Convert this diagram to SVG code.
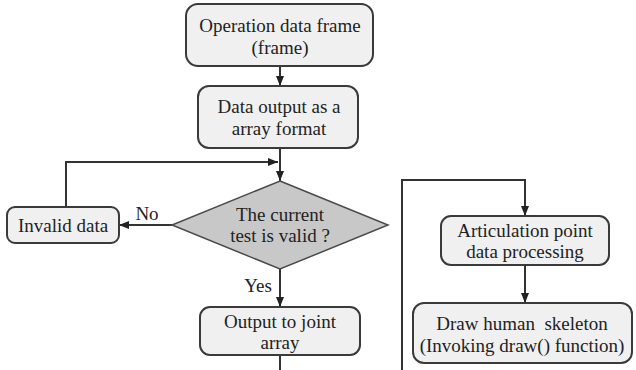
<svg xmlns="http://www.w3.org/2000/svg" width="636" height="370" viewBox="0 0 636 370">
  <style>
    .box { fill: #f0f0f0; stroke: #3a3a3a; stroke-width: 2; }
    .dia { fill: #c8c8c8; stroke: #4a4a4a; stroke-width: 1.5; }
    .lbl { font-size: 19px; fill: #222; text-anchor: middle; }
    .pre { white-space: pre; }
    .edge { fill: none; stroke: #333; stroke-width: 2; }
  </style>
  <defs>
    <marker id="arrow" viewBox="0 0 10 10" refX="10" refY="5" markerWidth="5" markerHeight="5" orient="auto" markerUnits="strokeWidth">
      <path d="M0,1 L10,5 L0,9 z" fill="#222"/>
    </marker>
  </defs>
  <rect width="636" height="370" fill="#ffffff"/>

  <g id="connectors">
    <path class="edge" d="M280,66 V86" marker-end="url(#arrow)"/>
    <path class="edge" d="M280,148 V181" marker-end="url(#arrow)"/>
    <path class="edge" d="M66,207 V162 H278" marker-end="url(#arrow)"/>
    <path class="edge" d="M172,225 H119" marker-end="url(#arrow)"/>
    <path class="edge" d="M280,269 V307" marker-end="url(#arrow)"/>
    <path class="edge" d="M280,355 V370"/>
    <path class="edge" d="M402,370 V180 H525 V216" marker-end="url(#arrow)"/>
    <path class="edge" d="M525,265 V303" marker-end="url(#arrow)"/>
  </g>

  <g font-family="Liberation Serif, DejaVu Serif, serif">
    <g id="frame">
      <rect class="box" x="186" y="4" width="187" height="62" rx="12"/>
      <text class="lbl" x="280" y="32">Operation data frame</text>
      <text class="lbl" x="280" y="54">(frame)</text>
    </g>

    <g id="array-output">
      <rect class="box" x="198" y="86" width="160" height="62" rx="11"/>
      <text class="lbl" x="279" y="113">Data output as a</text>
      <text class="lbl" x="279" y="135">array format</text>
    </g>

    <g id="valid-check">
      <polygon class="dia" points="280,181 388,225 280,269 172,225"/>
      <text class="lbl" x="280" y="221">The current</text>
      <text class="lbl" x="280" y="242">test is valid ?</text>
    </g>

    <g id="invalid">
      <rect class="box" x="7" y="207" width="112" height="36" rx="8"/>
      <text class="lbl" x="63" y="232">Invalid data</text>
    </g>

    <g id="edge-labels">
      <text class="lbl" x="147" y="220">No</text>
      <text class="lbl" x="258" y="292">Yes</text>
    </g>

    <g id="joint-array">
      <rect class="box" x="200" y="307" width="160" height="48" rx="10"/>
      <text class="lbl" x="280" y="328">Output to joint</text>
      <text class="lbl" x="280" y="349">array</text>
    </g>

    <g id="articulation">
      <rect class="box" x="441" y="216" width="168" height="49" rx="10"/>
      <text class="lbl" x="525" y="237">Articulation point</text>
      <text class="lbl" x="525" y="258">data processing</text>
    </g>

    <g id="skeleton">
      <rect class="box" x="413" y="303" width="219" height="60" rx="11"/>
      <text class="lbl pre" x="522" y="330">Draw human  skeleton</text>
      <text class="lbl" x="522" y="352">(Invoking draw() function)</text>
    </g>
  </g>
</svg>
